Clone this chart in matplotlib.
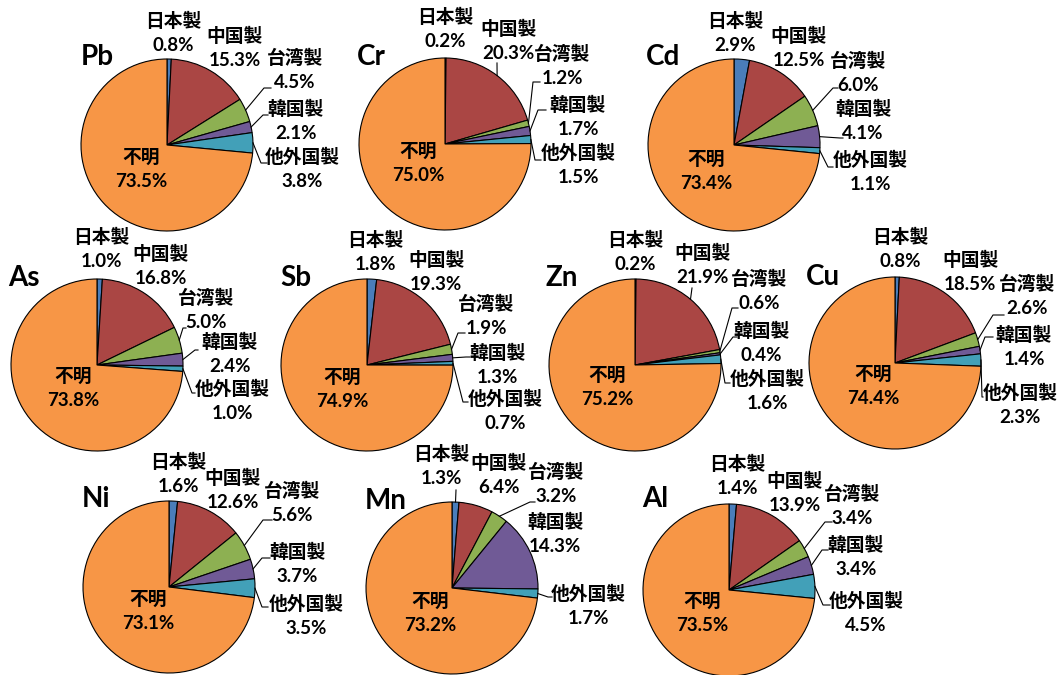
import numpy as np
import matplotlib.pyplot as plt

plt.rcParams['font.family'] = ['Lato', 'Noto Sans CJK JP', 'DejaVu Sans']

# share of each origin (%) per element
origins = ['日本製', '中国製', '台湾製', '韓国製', '他外国製', '不明']
elements = ['Pb', 'Cr', 'Cd', 'As', 'Sb', 'Zn', 'Cu', 'Ni', 'Mn', 'Al']
pb = [0.8, 15.3, 4.5, 2.1, 3.8, 73.5]
cr = [0.2, 20.3, 1.2, 1.7, 1.5, 75.0]
cd = [2.9, 12.5, 6.0, 4.1, 1.1, 73.4]
as_ = [1.0, 16.8, 5.0, 2.4, 1.0, 73.8]
sb = [1.8, 19.3, 1.9, 1.3, 0.7, 74.9]
zn = [0.2, 21.9, 0.6, 0.4, 1.6, 75.2]
cu = [0.8, 18.5, 2.6, 1.4, 2.3, 74.4]
ni = [1.6, 12.6, 5.6, 3.7, 3.5, 73.1]
mn = [1.3, 6.4, 3.2, 14.3, 1.7, 73.2]
al = [1.4, 13.9, 3.4, 3.4, 4.5, 73.5]
shares = [pb, cr, cd, as_, sb, zn, cu, ni, mn, al]

colors = ['#4A7DBA', '#AA4644', '#8DB052', '#705A96', '#42A0B8', '#F79646']

# layout in pixels (origin top-left)
W, H = 1061, 675
R = 86
centers = [(167, 145), (445, 144), (734, 145),
           (97, 365), (367, 365), (635, 365), (895, 363),
           (169, 587), (452, 588), (729, 590)]
title_pos = [(97, 57), (371, 57), (663, 57),
             (24, 278), (296, 278), (562, 278), (823, 277),
             (96, 499), (386, 501), (655, 499)]
label_pos = [
    [(173, 33), (235, 48), (295, 70), (296, 121), (302, 169), (141, 169)],
    [(445, 29), (508, 41), (562, 66), (578, 117), (578, 165), (418, 163)],
    [(735, 33), (799, 48), (858, 73), (863, 121), (870, 172), (706, 171)],
    [(101, 249), (161, 266), (206, 310), (230, 354), (232, 401), (73, 388)],
    [(375, 252), (436, 272), (486, 316), (497, 365), (505, 411), (342, 389)],
    [(635, 252), (702, 265), (759, 291), (761, 343), (767, 391), (607, 387)],
    [(900, 249), (970, 272), (1027, 296), (1024, 347), (1020, 405), (873, 386)],
    [(178, 474), (233, 490), (292, 503), (297, 564), (306, 616), (148, 611)],
    [(441, 466), (499, 475), (556, 484), (555, 534), (588, 606), (430, 613)],
    [(737, 476), (795, 493), (852, 506), (856, 557), (866, 613), (702, 613)],
]
# leader lines: wedge index -> (elbow x, elbow y, end x)
leaders = [
    {2: (264, 88, 271), 3: (263, 115, 268), 4: (261, 163, 267)},
    {1: (497, 63, 497), 2: (533, 82, 540), 3: (538, 110, 546), 4: (535, 160, 541)},
    {2: (833, 88, 838), 3: (840, 138, 843), 4: (828, 167, 833)},
    {2: (183, 328, 186), 3: (195, 350, 198), 4: (192, 393, 195)},
    {2: (458, 333, 465), 3: (466, 357, 470), 4: (463, 402, 468)},
    {1: (692, 288, 692), 2: (732, 308, 738), 3: (733, 337, 737), 4: (725, 383, 730)},
    {2: (993, 315, 1004), 3: (985, 337, 993), 4: (982, 397, 983)},
    {2: (263, 520, 272), 3: (262, 558, 270), 4: (262, 607, 268)},
    {0: (456, 490, 456), 2: (530, 502, 535), 4: (548, 597, 552)},
    {2: (825, 522, 832), 3: (822, 550, 828), 4: (823, 605, 830)},
]

fig = plt.figure(figsize=(W / 100, H / 100), dpi=100)
ax = fig.add_axes([0, 0, 1, 1])

for k, vals in enumerate(shares):
    cx, cy = centers[k]
    wedges, _ = ax.pie(vals, colors=colors, startangle=90, counterclock=False,
                       center=(cx, H - cy), radius=R,
                       wedgeprops=dict(edgecolor='black', linewidth=0.8))
    ax.text(title_pos[k][0], H - title_pos[k][1], elements[k],
            ha='center', va='center', fontsize=20, fontweight='bold')
    for i, v in enumerate(vals):
        lx, ly = label_pos[k][i]
        ax.text(lx, H - ly, f'{origins[i]}\n{v:.1f}%', ha='center', va='center',
                fontsize=13.5, fontweight='bold', linespacing=1.5)
        if i in leaders[k]:
            w = wedges[i]
            mid = np.deg2rad((w.theta1 + w.theta2) / 2)
            x0 = cx + R * np.cos(mid)
            y0 = H - cy + R * np.sin(mid)
            ex, ey, endx = leaders[k][i]
            ax.plot([x0, ex, endx], [y0, H - ey, H - ey], color='black', lw=0.8)

ax.set_xlim(0, W)
ax.set_ylim(0, H)
ax.set_aspect('equal')
ax.axis('off')
fig.savefig('out.png', dpi=100)
